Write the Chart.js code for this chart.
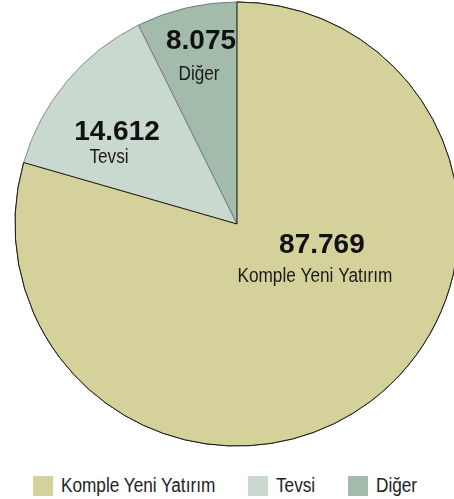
<!DOCTYPE html>
<html>
<head>
<meta charset="utf-8">
<script src="https://cdn.jsdelivr.net/npm/chart.js@4.4.0/dist/chart.umd.min.js"></script>
<style>
    html, body { margin: 0; padding: 0; background: #fff; overflow: hidden; width: 454px; height: 499px; }
    #wrap { position: absolute; left: 0; top: 0; width: 474px; height: 448px; }
    #legend { position: absolute; left: 33px; top: 474px; display: flex; align-items: center; white-space: nowrap;
              font-family: 'Liberation Sans', Arial, sans-serif; font-size: 20px; color: #222; }
    .item { display: flex; align-items: center; margin-right: 33px; }
    .box { width: 20px; height: 20px; margin-right: 8px; flex: none; }
    .txt { display: inline-block; overflow: visible; }
    .txt span { display: inline-block; transform: scaleX(0.86); transform-origin: left center; }
</style>
</head>
<body>
<div id="wrap"><canvas id="chartPie"></canvas></div>
<div id="legend"></div>
<script>
// ── Data ─────────────────────────────────────────────────
const labels = ['Komple Yeni Yatırım', 'Tevsi', 'Diğer'];
const values = [87769, 14612, 8075];
const valueLabels = ['87.769', '14.612', '8.075'];

// ── Style ────────────────────────────────────────────────
const colors = ['#D4D19A', '#CAD9D0', '#A3BBAA'];
const borders = ['#1a1a1a', '#8a8a8a', '#7a7a7a'];
const squeeze = 0.86; // fake condensed face
// label anchor: polar angle (deg, canvas), radius fraction, name offset
const labelPos = [
    { a: 12.6, r: 0.392, dx: -7, dy: 29 },
    { a: 218.1, r: 0.687, dx: -8, dy: 23 },
    { a: 259.0, r: 0.849, dx: -2, dy: 31 }
];

const pieLabels = {
    id: 'pieLabels',
    afterDatasetsDraw(chart) {
        const ctx = chart.ctx;
        const meta = chart.getDatasetMeta(0);
        // redraw first slice so its dark outline sits on top
        meta.data[0].draw(ctx);
        ctx.save();
        ctx.textAlign = 'center';
        ctx.textBaseline = 'alphabetic';
        meta.data.forEach((arc, i) => {
            const p = labelPos[i];
            const ang = p.a * Math.PI / 180;
            const cx = arc.x + Math.cos(ang) * arc.outerRadius * p.r;
            const cy = arc.y + Math.sin(ang) * arc.outerRadius * p.r;
            ctx.fillStyle = '#111';
            ctx.font = "bold 28px 'Liberation Sans', Arial, sans-serif";
            ctx.fillText(valueLabels[i], cx, cy + 10);
            ctx.save();
            ctx.translate(cx + p.dx, cy + 10 + p.dy);
            ctx.scale(squeeze, 1);
            ctx.fillStyle = '#1a1a1a';
            ctx.font = "20px 'Liberation Sans', Arial, sans-serif";
            ctx.fillText(labels[i], 0, 0);
            ctx.restore();
        });
        ctx.restore();
    }
};

new Chart(document.getElementById('chartPie'), {
    type: 'pie',
    data: {
        labels: labels,
        datasets: [{
            data: values, backgroundColor: colors, borderColor: borders,
            borderWidth: 1, hoverOffset: 0, radius: 222
        }]
    },
    options: {
        responsive: true, maintainAspectRatio: false, animation: false,
        layout: { padding: 0 },
        plugins: { legend: { display: false }, tooltip: { enabled: false } }
    },
    plugins: [pieLabels]
});

const legend = document.getElementById('legend');
labels.forEach((l, i) => {
    const item = document.createElement('div');
    item.className = 'item';
    item.innerHTML = '<div class="box" style="background:' + colors[i] + '"></div><div class="txt"><span>' + l + '</span></div>';
    legend.appendChild(item);
    const txt = item.querySelector('.txt');
    const w = txt.firstChild.offsetWidth;
    txt.style.width = (w * squeeze) + 'px';
});
</script>
</body>
</html>
